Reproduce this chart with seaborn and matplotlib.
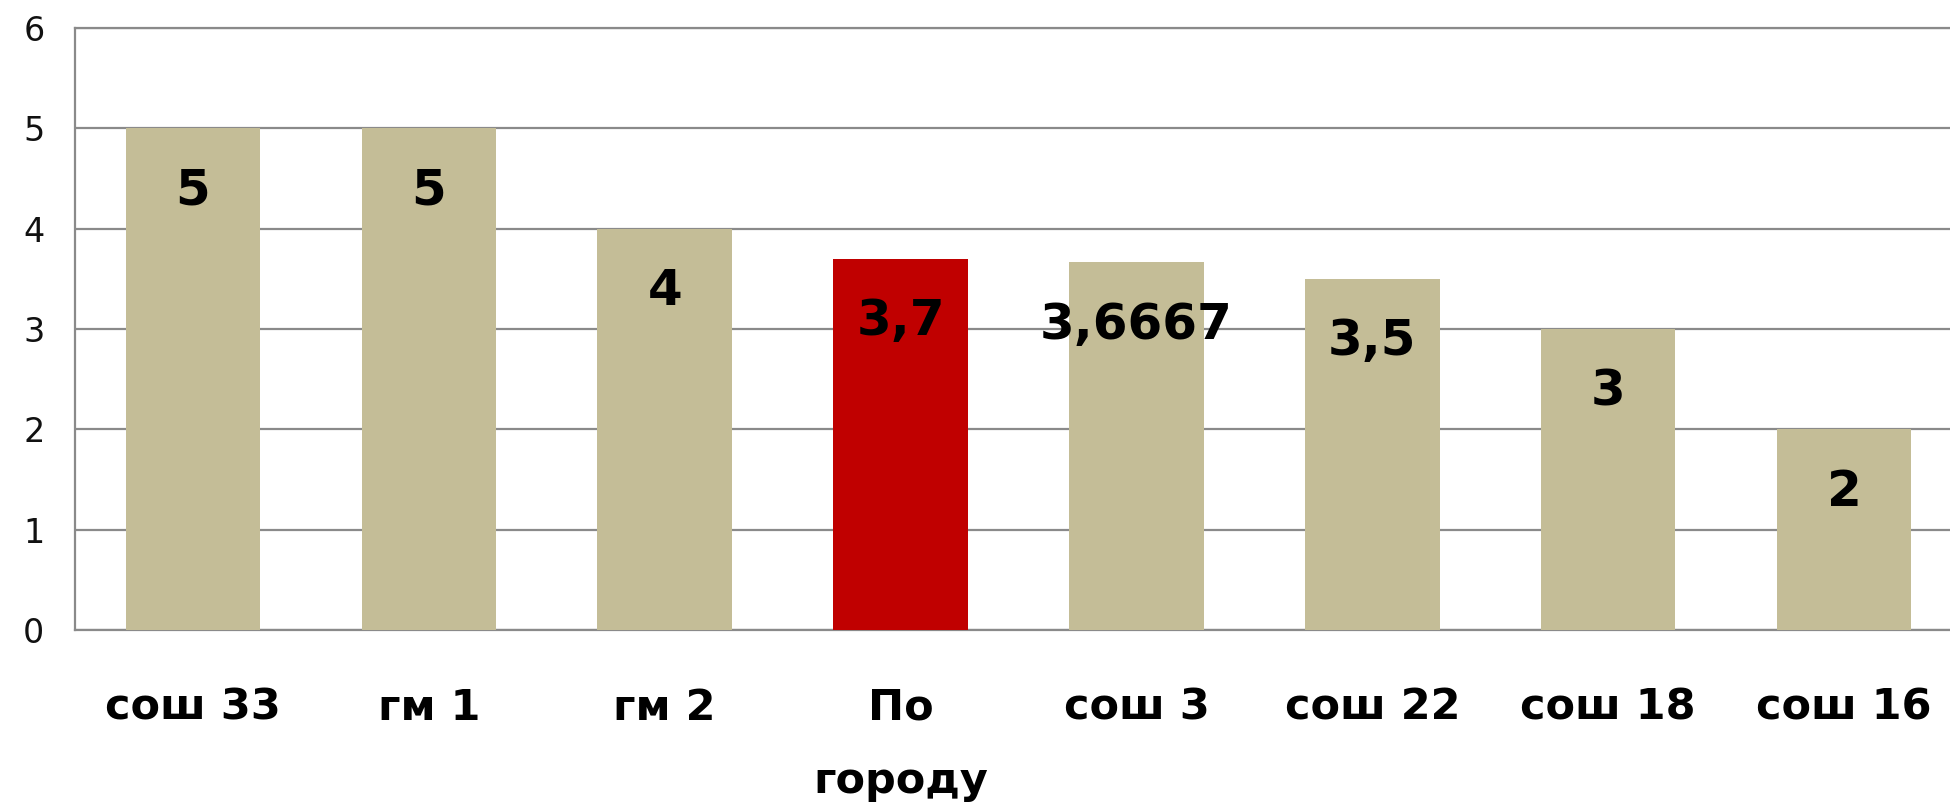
import numpy as np
import pandas as pd
import matplotlib
matplotlib.use("Agg")
import matplotlib.pyplot as plt
import seaborn as sns

schools = ["сош 33", "гм 1", "гм 2", "По\nгороду", "сош 3", "сош 22", "сош 18", "сош 16"]
scores = [5, 5, 4, 3.7, 3.6667, 3.5, 3, 2]
labels = ["5", "5", "4", "3,7", "3,6667", "3,5", "3", "2"]
bar_colors = ["#C4BD97", "#C4BD97", "#C4BD97", "#C00000", "#C4BD97", "#C4BD97", "#C4BD97", "#C4BD97"]

sns.set_style("white")
plt.rcParams["font.family"] = ["DejaVu Sans"]

df = pd.DataFrame({"school": schools, "score": scores})

fig = plt.figure(figsize=(19.5, 8.05), dpi=100)
ax = fig.add_axes([75/1950, 175/805, 1887/1950, 602/805])

sns.barplot(data=df, x="school", y="score", hue="school", palette=bar_colors,
            legend=False, width=0.57, saturation=1, ax=ax, zorder=3,
            edgecolor="none", linewidth=0)

ax.set_xlim(-0.5, 7.5)
ax.set_ylim(0, 6)
ax.set_yticks(range(0, 7))
ax.yaxis.grid(True, color="#8a8a8a", linewidth=1.6, zorder=0)
ax.set_axisbelow(True)

for s in ["left", "bottom", "top"]:
    ax.spines[s].set_color("#8a8a8a")
    ax.spines[s].set_linewidth(1.6)
ax.spines["right"].set_visible(False)

ax.set_xlabel("")
ax.set_ylabel("")
ax.tick_params(axis="y", length=0, pad=22, labelsize=24, labelcolor="#111111")
ax.tick_params(axis="x", length=0, pad=41, labelsize=31, labelcolor="black")
for t in ax.get_xticklabels():
    t.set_fontweight("bold")
    t.set_linespacing(1.95)
    t.set_verticalalignment("top")

for i, (v, lab) in enumerate(zip(scores, labels)):
    ax.annotate(lab, xy=(i, v), xytext=(0, -45), textcoords="offset points",
                ha="center", va="center", fontsize=36, fontweight="bold",
                color="black", zorder=4)

fig.savefig("out.png", dpi=100, facecolor="white")
